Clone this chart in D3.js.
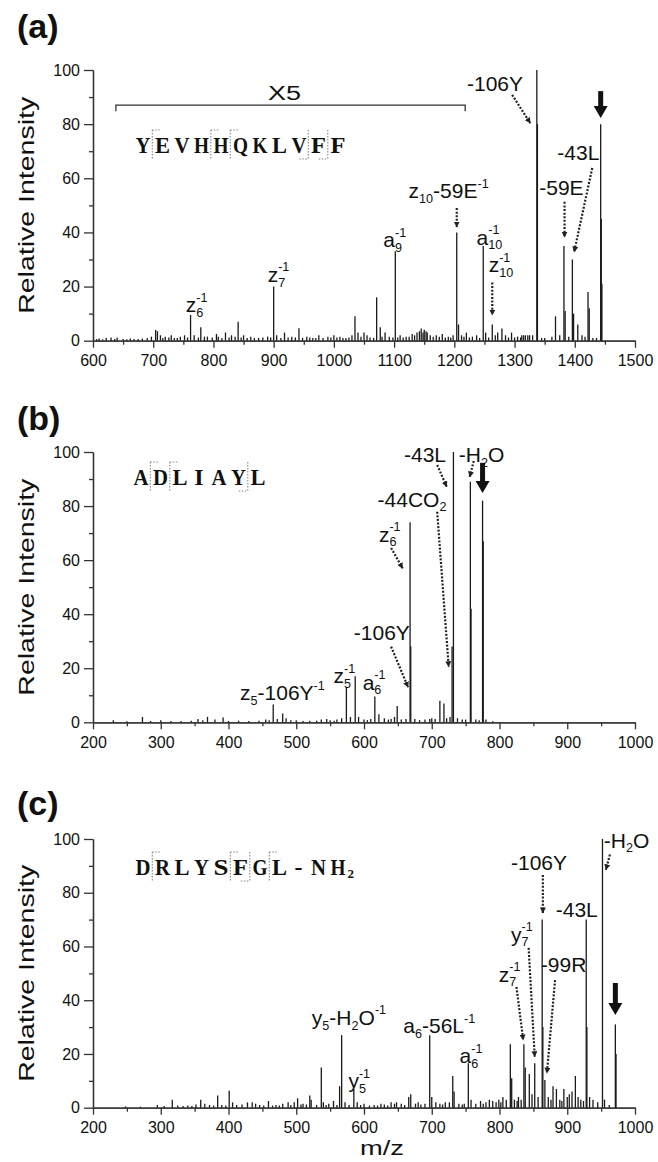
<!DOCTYPE html>
<html><head><meta charset="utf-8">
<script src="https://cdn.jsdelivr.net/npm/d3@7"></script>
<style>
body{margin:0;background:#fff}
svg{display:block}
text{fill:#111}
</style></head><body>
<svg id="chart" width="658" height="1162" font-family="Liberation Sans, Arial, Helvetica, sans-serif"></svg>
<script>
// ---------------- DATA ----------------
// Panel (a) YEVHHQKLVFF : m/z and relative intensity
const aMz  = [606,610,616,622,630,636,640,650,656,662,668,675,682,690,697,704,707,712,716,720,726,730,735,740,745,752,757,762,768,775,779,785,790,798,805,808,814,820,826,830,836,841,846,850,856,862,868,875,882,890,895,900,905,912,918,924,930,936,942,948,955,960,965,970,975,982,990,995,1000,1005,1010,1015,1020,1025,1030,1035,1040,1045,1050,1055,1060,1066,1071,1077,1080,1085,1092,1098,1102,1106,1110,1115,1120,1125,1130,1134,1138,1142,1145,1148,1150,1153,1155,1160,1165,1170,1175,1180,1185,1190,1194,1198,1204,1207,1212,1216,1220,1225,1230,1237,1242,1248,1252,1257,1263,1268,1272,1279,1285,1290,1295,1300,1305,1310,1312,1315,1318,1322,1325,1330,1337,1338,1345,1350,1362,1368,1375,1382,1384,1390,1396,1398,1405,1412,1417,1422,1424,1430,1436,1443,1444,1445];
const aInt = [0.6,0.8,0.5,1,1.2,0.6,1.2,0.6,0.5,0.8,0.6,0.6,0.8,1,1.5,4,3.5,2,1,1.5,1.2,2,1,1,1.5,2,1.2,9.5,2,1.2,5,1.5,1.5,1.2,2.5,1.5,1,3,1.2,2,1.5,7,1.2,2,1,1.5,1,1,1.2,1.5,1.2,20,2,1,3,1.2,1.5,1.2,4.6,1,1.5,1.2,1,1,2,1,1.5,1.2,2,1.2,1.5,1,1,1.2,2,9,3,1.5,3,2,1.2,1,16,5,1.5,3,1.5,1.2,33,1.2,2,1.2,1.5,1.5,2.5,2,3,3.5,4.5,3,4,3.5,3,2,1.5,2,1.5,2.5,1.2,1.5,1.2,2,40,6,2,1.5,3,1.2,1.5,2,1,35,3,1.2,6,2,3,4.5,2,1.2,3,1.2,1.5,1.2,2,2,2,2,2,2,100,80,1,1,1.5,9,2,35,11,1.5,30,10,6,2,1.5,18,12,1,1,80,45,21];
// Panel (b) ADLIAYL
const bMz  = [230,250,273,285,300,315,330,345,355,362,369,380,392,400,415,430,445,455,460,466,472,480,485,492,500,510,520,530,537,545,550,556,560,567,574,580,587,592,600,605,610,616,622,630,636,640,645,649,655,662,668,669,675,682,690,697,700,705,712,718,722,727,730,732,738,745,750,757,758,765,770,775,776,780,790];
const bInt = [0.8,0.4,2,0.5,0.8,0.5,0.5,0.6,1.2,0.8,2,1,1.8,0.5,0.6,0.5,0.6,1,0.8,6.6,1.2,3.3,1.5,0.8,0.8,0.5,0.6,0.6,1,1.2,0.8,0.6,1,1.5,13,2,17,2,1,0.8,1.2,9.5,3,1.5,1,1.2,2,6,1,1.2,74,28,1.2,0.8,1,1.2,1.5,1.2,8,7,1.5,2,28,100,1.5,1,1,89,42,1,0.8,82,67,1,0.4];
// Panel (c) DRLYSFGL-NH2
const cMz  = [248,270,295,305,317,325,333,340,346,352,359,365,372,378,384,390,396,401,406,412,420,428,435,440,446,452,459,465,470,475,480,488,492,497,502,507,510,515,520,522,530,537,540,544,548,555,560,564,567,572,578,585,590,595,600,608,615,620,625,630,635,640,645,648,655,660,666,669,676,680,684,690,697,700,706,712,716,720,726,731,733,740,745,748,754,758,765,772,776,780,785,790,795,799,802,805,810,816,818,822,826,828,832,836,838,844,848,852,857,863,864,867,872,876,879,884,889,892,895,900,903,907,912,916,920,924,928,929,933,938,945,952,955,962,971,972];
const cInt = [0.5,0.4,1,0.6,3,0.8,0.6,0.8,0.6,1.2,3,1.5,1,0.8,4.5,1,0.8,6.3,2,1,1.2,2,2,1.5,1,0.8,2.5,0.8,1,0.8,1.5,2,1,2,3.5,1.2,1.5,1.2,4.5,3,1,15,2,1,1.5,2.5,1,8,27,2,1,7,2,1,1.5,0.8,1,0.8,1.5,1.2,0.8,2,1.5,2,1.5,1,4,5,1.5,2,1.2,1.5,27,4,2,1.5,1.2,2,2,11.8,6,1.5,1.2,1.5,16.5,3,1.5,2.5,1.5,2,3,2.5,2,3,2,4,3,23.6,11,3,2.5,4,3,23.6,15,12.5,5,16.5,4,70,30,10.3,4,3,8,7,3,2.5,7,4,5,6,11.8,4,3,2.5,70,30,4,3,2,100,3,1,31,20];

// tick values
const yTicks = [0,20,40,60,80,100];
const yMinor = [10,30,50,70,90];
const aTicks = [600,700,800,900,1000,1100,1200,1300,1400,1500];
const bcTicks = [200,300,400,500,600,700,800,900,1000];

// peptide sequences and cleavage markers [boundary after char index, type]
const aSeq = "YEVHHQKLVFF";
const aCuts = [[0,"t"],[3,"t"],[4,"t"],[8,"b"],[9,"b"]];
const bSeq = "ADLIAYL";
const bCuts = [[0,"t"],[1,"t"],[5,"b"]];
const cSeq = "DRLYSFGL-NH";
const cCuts = [[0,"t"],[4,"t"],[5,"b"],[6,"t"]];

// annotation labels: [segments, m/z, intensity]
const aLabels = [
  [[["-106Y"]],1221,92.3],
  [[["-43L"]],1371,66.8],
  [[["-59E"]],1341,53.8],
  [[["z"],["10","sub"],["-59E"],["-1","sup"]],1124,52.7],
  [[["a"],["10","sub"],["-1","sup"]],1237,35.4],
  [[["z"],["10","sub"],["-1","sup"]],1257,25.3],
  [[["a"],["9","sub"],["-1","sup"]],1082,34.6],
  [[["z"],["7","sub"],["-1","sup"]],890,21.7],
  [[["z"],["6","sub"],["-1","sup"]],754,10.6]
];
const aArrows = [[1296,90.8,1326,80.4],[1429,63.8,1399,32.8],[1383,51.3,1383,38.3],[1204,49,1204,42],[1263,21.5,1263,9.5]];
const bLabels = [
  [[["-43L"]],659,96.3],
  [[["-H"],["2","sub"],["O"]],740,96.3],
  [[["-44CO"],["2","sub"]],620,79.8],
  [[["z"],["6","sub"],["-1","sup"]],622,66.8],
  [[["-106Y"]],585,30.4],
  [[["z"],["5","sub"],["-106Y"],["-1","sup"]],417,8.1],
  [[["z"],["5","sub"],["-1","sup"]],555,14.5],
  [[["a"],["6","sub"],["-1","sup"]],598,12]
];
const bArrows = [[708,95.2,722,87.2],[762,96.7,756,90.8],[708,77.9,725,20.6],[640,64.5,657,57],[640,28,665,13]];
const cLabels = [
  [[["-H"],["2","sub"],["O"]],954,96.7],
  [[["-106Y"]],817,88.5],
  [[["-43L"]],883,71],
  [[["y"],["7","sub"],["-1","sup"]],817,61.8],
  [[["-99R"]],861,50.6],
  [[["z"],["7","sub"],["-1","sup"]],799,46.9],
  [[["y"],["5","sub"],["-H"],["2","sub"],["O"],["-1","sup"]],523,30.8],
  [[["a"],["6","sub"],["-56L"],["-1","sup"]],658,27.7],
  [[["a"],["6","sub"],["-1","sup"]],741,16.5],
  [[["y"],["5","sub"],["-1","sup"]],577,7.3]
];
const cArrows = [[963,94.2,957,88.6],[864,86.6,864,72.5],[843,59.5,852,19],[882,47.5,870,12.9],[825,45,835,25.2]];

// ---------------- DRAW ----------------
const svg = d3.select("#chart");
const defs = svg.append("defs");
defs.append("marker").attr("id","ah").attr("viewBox","0 0 10 10").attr("refX",9).attr("refY",5)
  .attr("markerWidth",6).attr("markerHeight",6).attr("markerUnits","userSpaceOnUse").attr("orient","auto")
  .append("path").attr("d","M0,0L10,5L0,10z").attr("fill","#222");

function richText(g, x, y, segs, size){
  let cx = x, subX = null;
  segs.forEach(s => {
    const type = s[1] || "";
    let fs = size, yy = y, xx = cx;
    if (type === "sub"){ fs = size*0.6; yy = y + size*0.22; subX = cx; }
    else if (type === "sup"){ fs = size*0.6; yy = y - size*0.5; if (subX !== null) xx = subX; }
    const t = g.append("text").attr("x",xx).attr("y",yy).attr("font-size",fs).text(s[0]);
    const w = t.node().getComputedTextLength();
    if (type === "sup"){ cx = Math.max(cx, xx + w); subX = null; }
    else { cx = xx + w; if (type !== "sub") subX = null; }
  });
}

const SEQ_FONT = "'Liberation Serif', 'Times New Roman', serif";

function panel(cfg){
  const g = svg.append("g");
  const x = d3.scaleLinear().domain(cfg.xDomain).range([93,635]);
  const y = d3.scaleLinear().domain([0,100]).range([cfg.y0, cfg.y100]);

  // panel tag
  g.append("text").attr("x",17).attr("y",cfg.tagY).attr("font-size",34).attr("font-weight","bold").text(cfg.tag);

  // axes
  g.append("g").attr("transform",`translate(0,${y(0)})`)
    .call(d3.axisBottom(x).tickValues(cfg.ticks).tickSize(7).tickPadding(7).tickSizeOuter(0).tickFormat(d3.format("d")));
  g.append("g").attr("transform",`translate(0,${y(0)})`)
    .call(d3.axisBottom(x).tickValues(cfg.ticks.slice(0,-1).map(v=>v+50)).tickSize(4).tickFormat("").tickSizeOuter(0));
  g.append("g").attr("transform",`translate(93,0)`)
    .call(d3.axisLeft(y).tickValues(yTicks).tickSize(9).tickPadding(4).tickSizeOuter(0));
  g.append("g").attr("transform",`translate(93,0)`)
    .call(d3.axisLeft(y).tickValues(yMinor).tickSize(4).tickFormat("").tickSizeOuter(0));
  g.selectAll("g").attr("font-family",null);
  g.selectAll(".domain, .tick line").attr("stroke","#333").attr("stroke-width",1.3);
  g.selectAll(".tick text").attr("font-size",16).attr("fill","#111");

  // y title
  g.append("text").attr("transform",`translate(34,${(y(0)+y(100))/2}) rotate(-90)`)
    .attr("text-anchor","middle").attr("font-size",22)
    .attr("textLength",217).attr("lengthAdjust","spacingAndGlyphs").text("Relative Intensity");

  // spectrum sticks
  g.append("g").selectAll("line").data(cfg.mz.map((m,i)=>[m,cfg.int[i]])).join("line")
    .attr("x1",d=>x(d[0])).attr("x2",d=>x(d[0])).attr("y1",y(0)).attr("y2",d=>y(d[1]))
    .attr("stroke","#1a1a1a").attr("stroke-width",1.3);

  // peptide, one fixed-pitch glyph per cell
  const pitch = 19.5, px0 = cfg.seqX, pb = cfg.seqY;
  const pg = g.append("g").style("font-family",SEQ_FONT).attr("font-weight","bold").attr("font-size",24);
  cfg.seq.split("").forEach((ch,i) => {
    const t = pg.append("text").attr("x",px0+i*pitch+0.5).attr("y",pb).text(ch);
    if (ch !== "I" && ch !== "-") t.attr("textLength",15).attr("lengthAdjust","spacingAndGlyphs");
    else t.attr("x",px0+i*pitch+7.5).attr("text-anchor","middle");
  });
  if (cfg.seqSub) pg.append("text").attr("x",px0+cfg.seq.length*pitch-2).attr("y",pb+3).attr("font-size",13).text(cfg.seqSub);
  const mk = g.append("g").attr("stroke","#888").attr("stroke-width",1.1).attr("stroke-dasharray","1.5,1.5").attr("fill","none");
  cfg.cuts.forEach(c => {
    const bx = px0 + (c[0]+1)*pitch - 2.2;
    mk.append("line").attr("x1",bx).attr("x2",bx).attr("y1",pb-23).attr("y2",pb+6);
    if (c[1]==="t") mk.append("line").attr("x1",bx).attr("x2",bx+8).attr("y1",pb-23).attr("y2",pb-23);
    else mk.append("line").attr("x1",bx-9).attr("x2",bx).attr("y1",pb+6).attr("y2",pb+6);
  });

  // labels
  cfg.labels.forEach(l => richText(g, x(l[1]), y(l[2]), l[0], 21));
  // dotted arrows
  g.append("g").selectAll("line").data(cfg.arrows).join("line")
    .attr("x1",d=>x(d[0])).attr("y1",d=>y(d[1])).attr("x2",d=>x(d[2])).attr("y2",d=>y(d[3]))
    .attr("stroke","#222").attr("stroke-width",2.2).attr("stroke-dasharray","2,1.6").attr("marker-end","url(#ah)");
  // big arrow at precursor
  const bxp = x(cfg.prec[0]), yt = y(cfg.prec[1]), yb = y(cfg.prec[2]);
  g.append("line").attr("x1",bxp).attr("x2",bxp).attr("y1",yt).attr("y2",yb-10).attr("stroke","#111").attr("stroke-width",5);
  g.append("path").attr("d",`M${bxp-7},${yb-12}L${bxp+7},${yb-12}L${bxp},${yb}Z`).attr("fill","#111");
  return {g,x,y};
}

const pa = panel({tag:"(a)",tagY:38,xDomain:[600,1500],ticks:aTicks,y0:340.7,y100:70,mz:aMz,int:aInt,
  seq:aSeq,cuts:aCuts,seqX:135,seqY:153,labels:aLabels,arrows:aArrows,prec:[1443,92.2,82.3]});
// X5 bracket
{
  const {g,x,y} = pa;
  const yb = y(87);
  g.append("path").attr("d",`M${x(638)},${yb+6}V${yb}H${x(1218)}V${yb+6}`).attr("fill","none").attr("stroke","#333").attr("stroke-width",1.3);
  g.append("text").attr("x",x(918)).attr("y",y(88.9)).attr("text-anchor","middle").attr("font-size",20)
    .attr("textLength",33).attr("lengthAdjust","spacingAndGlyphs").text("X5");
}
panel({tag:"(b)",tagY:429.5,xDomain:[200,1000],ticks:bcTicks,y0:722.3,y100:452,mz:bMz,int:bInt,
  seq:bSeq,cuts:bCuts,seqX:133,seqY:485,labels:bLabels,arrows:bArrows,prec:[775,96,84.8]});
const pc = panel({tag:"(c)",tagY:814.5,xDomain:[200,1000],ticks:bcTicks,y0:1107.7,y100:839,mz:cMz,int:cInt,
  seq:cSeq,seqSub:"2",cuts:cCuts,seqX:135,seqY:875,labels:cLabels,arrows:cArrows,prec:[971,46.4,34.5]});
pc.g.append("text").attr("x",382).attr("y",1155).attr("text-anchor","middle").attr("font-size",21)
  .attr("textLength",44).attr("lengthAdjust","spacingAndGlyphs").text("m/z");
</script>
</body></html>
